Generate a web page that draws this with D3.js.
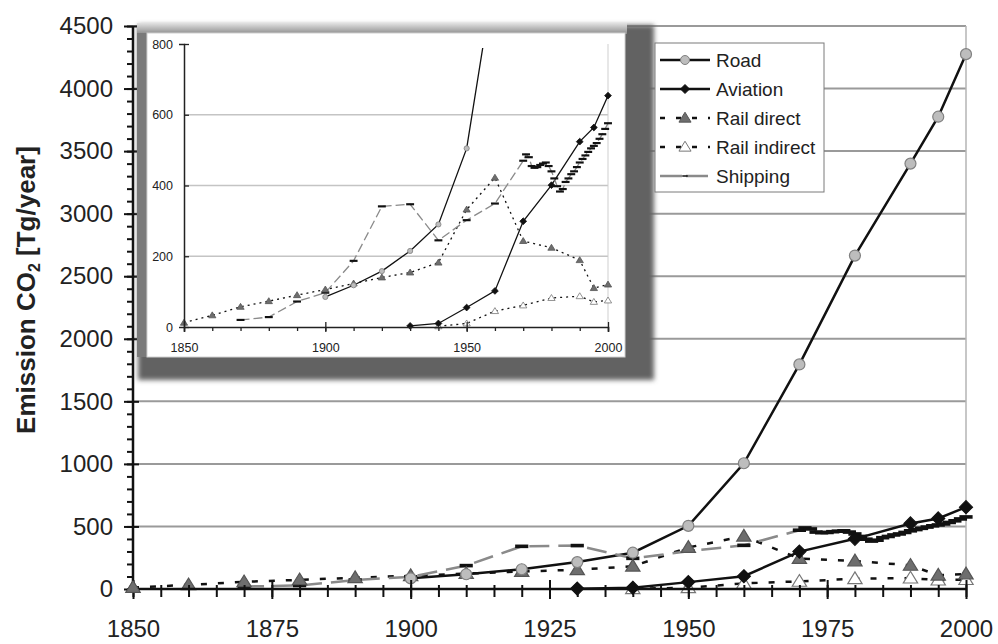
<!DOCTYPE html>
<html>
<head>
<meta charset="UTF-8">
<script src="https://d3js.org/d3.v7.min.js"></script>
<style>
  body { margin: 0; background: #fff; }
  svg text { font-family: "Liberation Sans", Arial, sans-serif; fill: #222; }
</style>
</head>
<body>
<script>
// ---- data ----
var roadYears = [1900, 1910, 1920, 1930, 1940, 1950, 1960, 1970, 1980, 1990, 1995, 2000];
var roadValues = [85, 118, 158, 215, 290, 505, 1005, 1795, 2665, 3400, 3775, 4275];

var aviationYears = [1930, 1940, 1950, 1960, 1970, 1980, 1990, 1995, 2000];
var aviationValues = [3, 10, 55, 102, 299, 401, 524, 564, 654];

var railDirectYears = [1850, 1860, 1870, 1880, 1890, 1900, 1910, 1920, 1930, 1940, 1950, 1960, 1970, 1980, 1990, 1995, 2000];
var railDirectValues = [12, 33, 57, 73, 90, 106, 123, 140, 154, 182, 332, 422, 243, 224, 189, 110, 120];

var railIndirectYears = [1940, 1950, 1960, 1970, 1980, 1990, 1995, 2000];
var railIndirectValues = [2, 10, 45, 61, 82, 87, 71, 75];

var shippingYears = [1870, 1880, 1890, 1900, 1910, 1920, 1930, 1940, 1950, 1960,
  1970, 1971, 1972, 1973, 1974, 1975, 1976, 1977, 1978, 1979,
  1980, 1981, 1982, 1983, 1984, 1985, 1986, 1987, 1988, 1989,
  1990, 1991, 1992, 1993, 1994, 1995, 1996, 1997, 1998, 1999, 2000];
var shippingValues = [20, 28, 72, 97, 187, 341, 347, 245, 302, 349,
  470, 488, 480, 455, 450, 452, 458, 462, 465, 455,
  440, 420, 398, 383, 390, 410, 420, 432, 440, 452,
  465, 475, 485, 495, 505, 512, 520, 532, 545, 560, 576];

var seriesNames = ["Road", "Aviation", "Rail direct", "Rail indirect", "Shipping"];
var mainYTicks = [0, 500, 1000, 1500, 2000, 2500, 3000, 3500, 4000, 4500];
var mainXTicks = [1850, 1875, 1900, 1925, 1950, 1975, 2000];
var insetYTicks = [0, 200, 400, 600, 800];
var insetXTicks = [1850, 1900, 1950, 2000];

function pairs(xs, vs) { return xs.map(function (d, i) { return [d, vs[i]]; }); }

var series = [
  { name: seriesNames[0], data: pairs(roadYears, roadValues), marker: "circle", line: "#111", dash: null, fill: "#bdbdbd", stroke: "#808080" },
  { name: seriesNames[1], data: pairs(aviationYears, aviationValues), marker: "diamond", line: "#111", dash: null, fill: "#111", stroke: "#111" },
  { name: seriesNames[2], data: pairs(railDirectYears, railDirectValues), marker: "triangle", line: "#111", dash: "short", fill: "#6e6e6e", stroke: "#555" },
  { name: seriesNames[3], data: pairs(railIndirectYears, railIndirectValues), marker: "triangle", line: "#111", dash: "short", fill: "#fff", stroke: "#777" },
  { name: seriesNames[4], data: pairs(shippingYears, shippingValues), marker: "bar", line: "#8a8a8a", dash: "long", fill: "#111", stroke: "none" }
];

function markerPath(type, s) {
  if (type === "circle") return d3.symbol().type(d3.symbolCircle).size(Math.PI * s * s)();
  if (type === "diamond") return "M0," + (-s) + "L" + s + ",0L0," + s + "L" + (-s) + ",0Z";
  if (type === "triangle") return "M0," + (-s * 1.05) + "L" + (s * 1.1) + "," + (s * 0.75) + "L" + (-s * 1.1) + "," + (s * 0.75) + "Z";
  if (type === "bar") return "M" + (-s * 1.1) + "," + (-s * 0.3) + "h" + (s * 2.2) + "v" + (s * 0.6) + "h" + (-s * 2.2) + "Z";
}

var W = 998, H = 644;
var svg = d3.select("body").append("svg").attr("width", W).attr("height", H);

// ---- main chart ----
var x = d3.scaleLinear().domain([1850, 2000]).range([133, 966]);
var y = d3.scaleLinear().domain([0, 4500]).range([589, 26]);

var main = svg.append("g");

main.append("g").selectAll("line").data(mainYTicks.slice(1)).enter().append("line")
  .attr("x1", x(1850)).attr("x2", x(2000))
  .attr("y1", function (d) { return y(d); }).attr("y2", function (d) { return y(d); })
  .attr("stroke", "#9a9a9a").attr("stroke-width", 2);
main.append("line").attr("x1", x(2000)).attr("x2", x(2000)).attr("y1", y(4500)).attr("y2", y(0))
  .attr("stroke", "#b5b5b5").attr("stroke-width", 1.5);

function drawSeries(g, xs, ys, opt) {
  var line = d3.line().x(function (d) { return xs(d[0]); }).y(function (d) { return ys(d[1]); });
  series.forEach(function (s) {
    var dash = s.dash === "short" ? opt.shortDash : (s.dash === "long" ? opt.longDash : null);
    g.append("path").datum(s.data)
      .attr("d", line)
      .attr("fill", "none")
      .attr("stroke", s.line)
      .attr("stroke-width", opt.lw)
      .attr("stroke-dasharray", dash);
  });
  series.slice().reverse().forEach(function (s) {
    g.append("g").selectAll("path").data(s.data.filter(function (d) { return ys(d[1]) >= ys.range()[1] - 1; }))
      .enter().append("path")
      .attr("transform", function (d) { return "translate(" + xs(d[0]) + "," + ys(d[1]) + ")"; })
      .attr("d", markerPath(s.marker, opt.size[s.marker]))
      .attr("fill", s.fill)
      .attr("stroke", s.stroke)
      .attr("stroke-width", opt.mw);
  });
}

var mainSeries = main.append("g");
drawSeries(mainSeries, x, y, {
  lw: 2.5, mw: 1.2, shortDash: "6,11", longDash: "20,9",
  size: { circle: 5.5, diamond: 6.5, triangle: 6.5, bar: 6 }
});

// main axes
var yAxisG = main.append("g").attr("transform", "translate(" + x(1850) + ",0)");
yAxisG.call(d3.axisLeft(y).tickValues(d3.range(0, 4501, 100)).tickSize(6).tickFormat(""));
yAxisG.call(function (g) { g.select(".domain").remove(); });
var yMaj = main.append("g").attr("transform", "translate(" + x(1850) + ",0)");
yMaj.call(d3.axisLeft(y).tickValues(mainYTicks).tickSize(9).tickPadding(11).tickFormat(d3.format("d")));
yMaj.selectAll("text").style("font-size", "24px");
yMaj.selectAll(".tick line").attr("x2", 6).attr("x1", -9);
yMaj.select(".domain").remove();

var xMinor = main.append("g").attr("transform", "translate(0," + y(0) + ")");
xMinor.call(d3.axisBottom(x).tickValues(d3.range(1850, 2001, 5)).tickSize(8).tickFormat(""));
xMinor.selectAll(".tick line").attr("y1", -4);
xMinor.select(".domain").remove();
var xMaj = main.append("g").attr("transform", "translate(0," + y(0) + ")");
xMaj.call(d3.axisBottom(x).tickValues(mainXTicks).tickSize(10).tickPadding(21).tickFormat(d3.format("d")));
xMaj.selectAll(".tick line").attr("y1", -9);
xMaj.selectAll("text").style("font-size", "24px");
xMaj.select(".domain").remove();

main.selectAll(".tick line").attr("stroke", "#111").attr("stroke-width", 2);
main.append("line").attr("x1", x(1850)).attr("x2", x(1850)).attr("y1", y(4500)).attr("y2", y(0))
  .attr("stroke", "#111").attr("stroke-width", 2.5);
main.append("line").attr("x1", x(1850)).attr("x2", x(2000)).attr("y1", y(0)).attr("y2", y(0))
  .attr("stroke", "#111").attr("stroke-width", 2.5);

// first rail-direct marker sits on the axis corner
main.append("path")
  .attr("transform", "translate(" + x(railDirectYears[0]) + "," + y(railDirectValues[0]) + ")")
  .attr("d", markerPath("triangle", 6.5)).attr("fill", "#6e6e6e").attr("stroke", "#555");

var yTitle = svg.append("text")
  .attr("transform", "translate(35,290) rotate(-90)")
  .attr("text-anchor", "middle")
  .style("font-size", "26px").style("font-weight", "bold");
yTitle.append("tspan").text("Emission CO");
yTitle.append("tspan").text("2").style("font-size", "16px").attr("dy", 5);
yTitle.append("tspan").text(" [Tg/year]").attr("dy", -5);

// ---- inset ----
var defs = svg.append("defs");
defs.append("filter").attr("id", "blur").attr("x", "-10%").attr("y", "-10%").attr("width", "120%").attr("height", "120%")
  .append("feGaussianBlur").attr("stdDeviation", 2.5);
var tg = defs.append("linearGradient").attr("id", "topband").attr("x1", 0).attr("y1", 0).attr("x2", 0).attr("y2", 1);
tg.append("stop").attr("offset", "0%").attr("stop-color", "#e2e2e2");
tg.append("stop").attr("offset", "100%").attr("stop-color", "#8d8d8d");

var inset = svg.append("g");
inset.append("rect").attr("x", 138).attr("y", 25).attr("width", 516).attr("height", 355)
  .attr("fill", "#626262").attr("filter", "url(#blur)");
inset.append("rect").attr("x", 137).attr("y", 23).attr("width", 490).attr("height", 11).attr("fill", "url(#topband)");
inset.append("rect").attr("x", 137).attr("y", 33).attr("width", 10).attr("height", 324).attr("fill", "#7a7a7a");
inset.append("rect").attr("x", 147).attr("y", 33).attr("width", 478).attr("height", 324)
  .attr("fill", "#fff").attr("stroke", "#d0d0d0").attr("stroke-width", 1);

var xi = d3.scaleLinear().domain([1850, 2000]).range([184, 608]);
var yi = d3.scaleLinear().domain([0, 800]).range([327, 44]);

inset.append("g").selectAll("line").data(insetYTicks.slice(1, -1)).enter().append("line")
  .attr("x1", xi(1850)).attr("x2", xi(2000))
  .attr("y1", function (d) { return yi(d); }).attr("y2", function (d) { return yi(d); })
  .attr("stroke", "#c4c4c4").attr("stroke-width", 1.5);
inset.append("line").attr("x1", xi(2000)).attr("x2", xi(2000)).attr("y1", yi(800)).attr("y2", yi(0))
  .attr("stroke", "#cfcfcf").attr("stroke-width", 1);

var clip = defs.append("clipPath").attr("id", "insetclip");
clip.append("rect").attr("x", 150).attr("y", yi(800) + 4).attr("width", 470).attr("height", 300);
var insetSeries = inset.append("g").attr("clip-path", "url(#insetclip)");
drawSeries(insetSeries, xi, yi, {
  lw: 1.3, mw: 0.8, shortDash: "2,4", longDash: "9,4",
  size: { circle: 2.6, diamond: 3.4, triangle: 3.3, bar: 3.6 }
});

var yiAx = inset.append("g").attr("transform", "translate(" + xi(1850) + ",0)");
yiAx.call(d3.axisLeft(yi).tickValues(insetYTicks).tickSize(5).tickPadding(6).tickFormat(d3.format("d")));
yiAx.selectAll(".tick line").attr("x2", 5);
yiAx.selectAll("text").style("font-size", "12.5px");
var xiAx = inset.append("g").attr("transform", "translate(0," + yi(0) + ")");
xiAx.call(d3.axisBottom(xi).tickValues(d3.range(1850, 2001, 10)).tickSize(4).tickFormat(""));
xiAx.select(".domain").remove();
var xiLab = inset.append("g").attr("transform", "translate(0," + yi(0) + ")");
xiLab.call(d3.axisBottom(xi).tickValues(insetXTicks).tickSize(5).tickPadding(11).tickFormat(d3.format("d")));
xiLab.selectAll(".tick line").attr("y1", -5);
xiLab.selectAll("text").style("font-size", "12.5px");
inset.selectAll(".domain").attr("stroke", "#222").attr("stroke-width", 1.5);
inset.selectAll(".tick line").attr("stroke", "#222").attr("stroke-width", 1.3);

// ---- legend ----
var legend = svg.append("g");
legend.append("rect").attr("x", 655).attr("y", 43).attr("width", 169).attr("height", 149)
  .attr("fill", "#fff").attr("stroke", "#7a7a7a").attr("stroke-width", 1);
series.forEach(function (s, i) {
  var ly = 60 + i * 29;
  var dash = s.dash === "short" ? "5,11" : (s.dash === "long" ? "22,4" : null);
  legend.append("line").attr("x1", 660).attr("x2", 710).attr("y1", ly).attr("y2", ly)
    .attr("stroke", s.line).attr("stroke-width", 2.5).attr("stroke-dasharray", dash);
  legend.append("path").attr("transform", "translate(685," + ly + ")")
    .attr("d", markerPath(s.marker, s.marker === "bar" ? 2.5 : (s.marker === "triangle" ? 5.5 : 4.5)))
    .attr("fill", s.fill).attr("stroke", s.stroke).attr("stroke-width", 1);
  legend.append("text").attr("x", 716).attr("y", ly).attr("dy", "0.35em")
    .style("font-size", "19px").text(s.name);
});
</script>
</body>
</html>
